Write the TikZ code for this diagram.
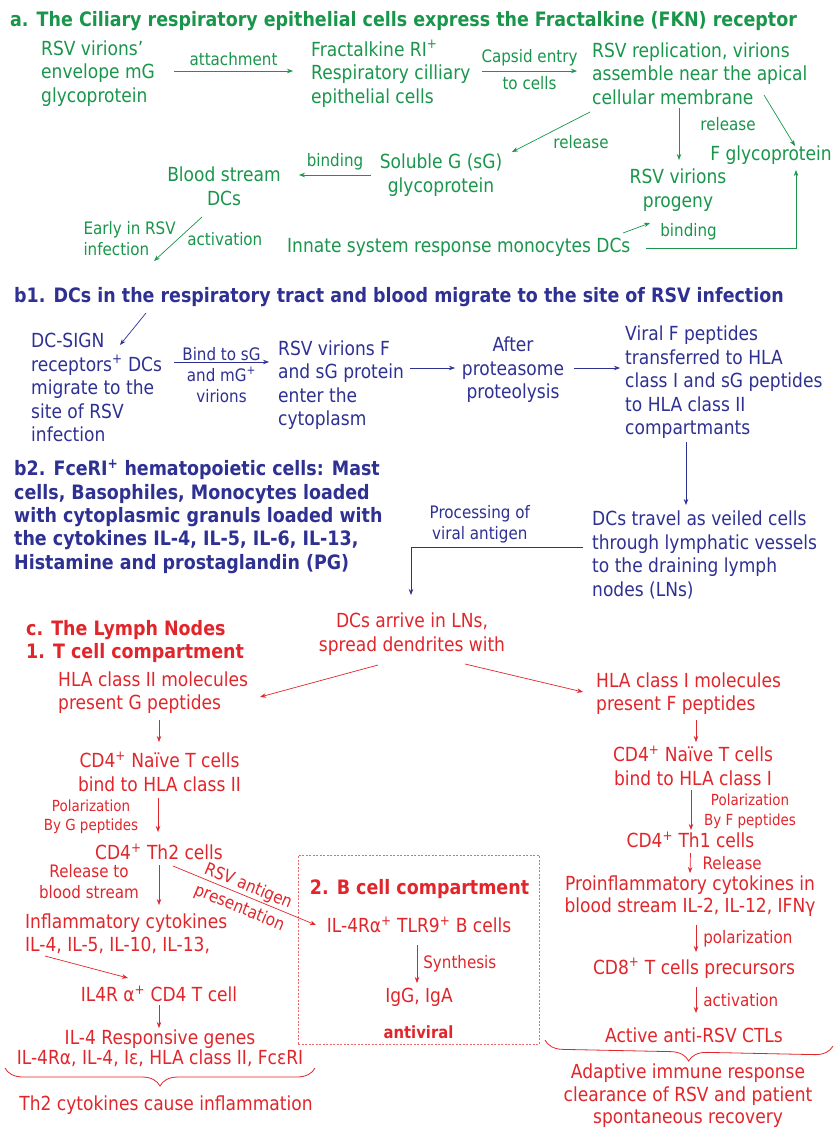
\documentclass[tikz,border=0pt]{standalone}
\usepackage{fontspec}
\setmainfont{DejaVu Sans}[FakeStretch=0.88]
\usetikzlibrary{arrows.meta,calc,decorations.pathreplacing}
\definecolor{cg}{RGB}{25,150,75}
\definecolor{cb}{RGB}{46,49,146}
\definecolor{cr}{RGB}{225,38,43}
\newcommand\fm{\fontsize{19.4}{23.5}\selectfont}
\newcommand\fl{\fontsize{17.2}{21}\selectfont}
\newcommand\fls{\fontsize{15.3}{19.5}\selectfont}
\newcommand\fb{\fontsize{19.85}{23.3}\selectfont\bfseries}
\begin{document}
\begin{tikzpicture}[x=1pt,y=-1pt,
  main/.style={font=\fm, inner sep=0pt, align=center},
  mainl/.style={font=\fm, inner sep=0pt, align=left, anchor=west},
  lbl/.style={font=\fl, inner sep=0pt, align=center},
  lbs/.style={font=\fls, inner sep=0pt, align=center},
  ttl/.style={font=\fb, inner sep=0pt, align=left, anchor=west},
  arr/.style={-{Stealth[length=6pt,width=4.5pt]}, line width=0.7pt},
  brc/.style={decorate, decoration={brace, amplitude=18pt}, line width=0.8pt}]
\useasboundingbox (0,0) rectangle (833,1129);
\fill[white] (0,0) rectangle (833,1129);

% ---------------- section a (green)
\begin{scope}[cg]
\node[ttl] (ta) at (10,21) {a. The Ciliary respiratory epithelial cells express the Fractalkine (FKN) receptor};
\node[mainl] (a1) at (41,73.5) {RSV virions’\\envelope mG\\glycoprotein};
\node[mainl] (a2) at (311,73.5) {Fractalkine RI\textsuperscript{+}\\Respiratory cilliary\\epithelial cells};
\node[mainl] (a3) at (592,73.5) {RSV replication, virions\\assemble near the apical\\cellular membrane};
\node[main] (fg) at (771,155) {F glycoprotein};
\node[main] (prog) at (678,190) {RSV virions\\progeny};
\node[main] (sg) at (441,175) {Soluble G (sG)\\glycoprotein};
\node[main] (bs) at (224,186.5) {Blood stream\\DCs};
\node[mainl] (inn) at (287,247) {Innate system response monocytes DCs};
\coordinate (act) at (154,261);

\draw[arr] ($(a1.west)+(133,-2.5)$) -- ($(a2.west)+(-18,-2.5)$) node[midway,above=5pt,lbl]{attachment};
\draw[arr] ($(a2.west)+(171,-2.5)$) -- ($(a3.west)+(-15,-2.5)$) node[midway,above=5pt,lbl]{Capsid entry} node[midway,below=5pt,lbl]{to cells};
\draw[arr] ($(a3.west)+(-2,38.5)$) -- ($(sg.center)+(71,-23)$) node[midway, shift={(30,10)}, lbl]{release};
\draw[arr] ($(a3.west)+(87,34.5)$) -- ($(prog.center)+(1,-30)$) node[pos=0.3, anchor=west, xshift=21pt, lbl]{release};
\draw[arr] ($(a3.west)+(172,21.5)$) -- ($(fg.center)+(24,-9)$);
\draw[arr] ($(sg.center)+(-70,0)$) -- ($(bs.center)+(75,-11.5)$) node[midway,above=5pt,lbl]{binding};
\draw[arr] ($(bs.center)+(-22,30.5)$) -- (act) node[midway, anchor=west, xshift=9pt, lbl]{activation} node[midway, anchor=east, xshift=-2pt, lbl, align=left]{Early in RSV\\infection};
\draw[arr] ($(inn.west)+(336,-14)$) -- ($(prog.center)+(-28,33)$) node[at end, anchor=west, shift={(10,9)}, lbl]{binding};
\draw[arr] ($(inn.west)+(359,1)$) -| ($(fg.center)+(25,15)$);
\end{scope}

% ---------------- section b (blue)
\begin{scope}[cb]
\node[ttl] (tb1) at (14,297) {b1. DCs in the respiratory tract and blood migrate to the site of RSV infection};
\coordinate (c1) at (146,313);
\node[mainl] (dcs) at (31,387.5) {DC-SIGN\\receptors\textsuperscript{+} DCs\\migrate to the\\site of RSV\\infection};
\draw[arr] (c1) -- ($(dcs.west)+(89,-42.5)$);
\node[mainl] (rsvf) at (278,385) {RSV virions F\\and sG protein\\enter the\\cytoplasm};
\draw[arr] ($(dcs.west)+(143,-25.5)$) -- ($(rsvf.west)+(-9,-23)$) node[midway,above=1pt,lbl]{Bind to sG} node[midway,below=5pt,lbl]{and mG\textsuperscript{+}\\virions};
\node[main] (aft) at (513,370) {After\\proteasome\\proteolysis};
\draw[arr] ($(rsvf.west)+(132,-17)$) -- ($(aft.center)+(-58,-2)$);
\node[mainl] (vf) at (625,382.5) {Viral F peptides\\transferred to HLA\\class I and sG peptides\\to HLA class II\\compartmants};
\draw[arr] ($(aft.center)+(61,-2)$) -- ($(vf.west)+(-5,-14.5)$);
\node[mainl] (dct) at (592,555) {DCs travel as veiled cells\\through lymphatic vessels\\to the draining lymph\\nodes (LNs)};
\draw[arr] ($(vf.west)+(61,59.5)$) -- ($(dct.west)+(94,-50)$);
\node[ttl] (tb2) at (14,516.6) {b2. FceRI\textsuperscript{+} hematopoietic cells: Mast\\cells, Basophiles, Monocytes loaded\\with cytoplasmic granuls loaded with\\the cytokines IL-4, IL-5, IL-6, IL-13,\\Histamine and prostaglandin (PG)};
\end{scope}

% ---------------- section c (red)
\begin{scope}[cr]
\node[main] (dca) at (412,634) {DCs arrive in LNs,\\spread dendrites with};
\draw[arr, cb] ($(dct.west)+(-9,-8)$) -| ($(dca.center)+(-1,-39)$) node[pos=0.3, above=4pt, lbl]{Processing of\\viral antigen};
\node[ttl] (tc) at (26,641.5) {c. The Lymph Nodes\\1. T cell compartment};
\node[mainl] (hla2) at (58,692.5) {HLA class II molecules\\present G peptides};
\node[mainl] (hla1) at (596,693.5) {HLA class I molecules\\present F peptides};
\draw[arr] ($(dca.center)+(-34,31)$) -- ($(hla2.west)+(202,4.5)$);
\draw[arr] ($(dca.center)+(53,30)$) -- ($(hla1.west)+(-13,-1.5)$);
\node[main] (n2) at (159.5,771.5) {CD4\textsuperscript{+} Naïve T cells\\bind to HLA class II};
\node[main] (n1) at (693,765.5) {CD4\textsuperscript{+} Naïve T cells\\bind to HLA class I};
\draw[arr] ($(hla2.west)+(101,27.5)$) -- ($(n2.center)+(-0.5,-29.5)$);
\draw[arr] ($(hla1.west)+(100,26.5)$) -- ($(n1.center)+(3,-23.5)$);
\node[main] (th2) at (159,852) {CD4\textsuperscript{+} Th2 cells};
\node[main] (th1) at (690.5,840) {CD4\textsuperscript{+} Th1 cells};
\draw[arr] ($(n2.center)+(-1.5,26.5)$) -- ($(th2.center)+(-1,-20)$) node[midway, shift={(-67,2)}, lbs]{Polarization\\By G peptides};
\draw[arr] ($(n1.center)+(-2,24.5)$) -- ($(th1.center)+(0.5,-10)$) node[midway, shift={(59,1.5)}, lbs]{Polarization\\By F peptides};
\node[mainl] (infl) at (25,933.5) {Inflammatory cytokines\\IL-4, IL-5, IL-10, IL-13,};
\draw[arr] ($(th2.center)+(0,13)$) -- ($(infl.west)+(134,-28.5)$) node[midway, shift={(-70,-3)}, lbl]{Release to\\blood stream};
\node[draw=cr!70, dash pattern=on 2pt off 1.5pt, line width=0.6pt, minimum width=241pt, minimum height=189pt, inner sep=0pt] (bbox) at (418.5,949.5) {};
\node[font=\fb, inner sep=0pt] (bt) at (419.5,889) {2. B cell compartment};
\node[main] (bc) at (419,925) {IL-4Rα\textsuperscript{+} TLR9\textsuperscript{+} B cells};
\draw[arr] ($(th2.center)+(14,14)$) -- ($(bc.center)+(-103,0)$) node[midway, sloped, above=1pt, lbl]{RSV antigen} node[midway, sloped, below=5pt, lbl]{presentation};
\node[main] (igg) at (419,997) {IgG, IgA};
\draw[arr] ($(bc.center)+(-2,20)$) -- ($(igg.center)+(-2,-14)$) node[midway, anchor=west, xshift=6pt, lbl]{Synthesis};
\node[font=\bfseries\fontsize{16.8}{19}\selectfont, inner sep=0pt] (av) at (418.5,1032) {antiviral};
\node[main] (il4r) at (159,994) {IL4R α\textsuperscript{+} CD4 T cell};
\draw[arr] ($(infl.west)+(20,22.5)$) -- ($(il4r.center)+(-31,-16)$);
\node[main, font=\fontsize{19.4}{20.5}\selectfont] (genes) at (160,1048) {IL-4 Responsive genes\\IL-4Rα, IL-4, Iε, HLA class II, FcεRI};
\draw[arr] ($(il4r.center)+(0,11)$) -- ($(genes.center)+(-1,-20)$);
\draw[brc] (315,1068) -- (5,1068);
\node[main] (th2c) at (166,1105) {Th2 cytokines cause inflammation};
\node[main, font=\fontsize{19.4}{22}\selectfont] (pro) at (690,896) {Proinflammatory cytokines in\\blood stream IL-2, IL-12, IFNγ};
\draw[arr] ($(th1.center)+(0,13)$) -- ($(pro.center)+(0,-23)$) node[midway, anchor=west, xshift=12pt, lbl]{Release};
\node[main] (cd8) at (694,968) {CD8\textsuperscript{+} T cells precursors};
\draw[arr] ($(pro.center)+(6,29)$) -- ($(cd8.center)+(2,-16)$) node[midway, anchor=west, xshift=7pt, lbl]{polarization};
\node[main] (ctl) at (694,1035) {Active anti-RSV CTLs};
\draw[arr] ($(cd8.center)+(2,19)$) -- ($(ctl.center)+(2,-22)$) node[midway, anchor=west, xshift=7pt, lbl]{activation};
\draw[brc] (833,1046) -- (545,1040);
\node[main, font=\fontsize{19.4}{22.5}\selectfont] (adapt) at (688,1096) {Adaptive immune response\\clearance of RSV and patient\\spontaneous recovery};
\end{scope}
\end{tikzpicture}
\end{document}
